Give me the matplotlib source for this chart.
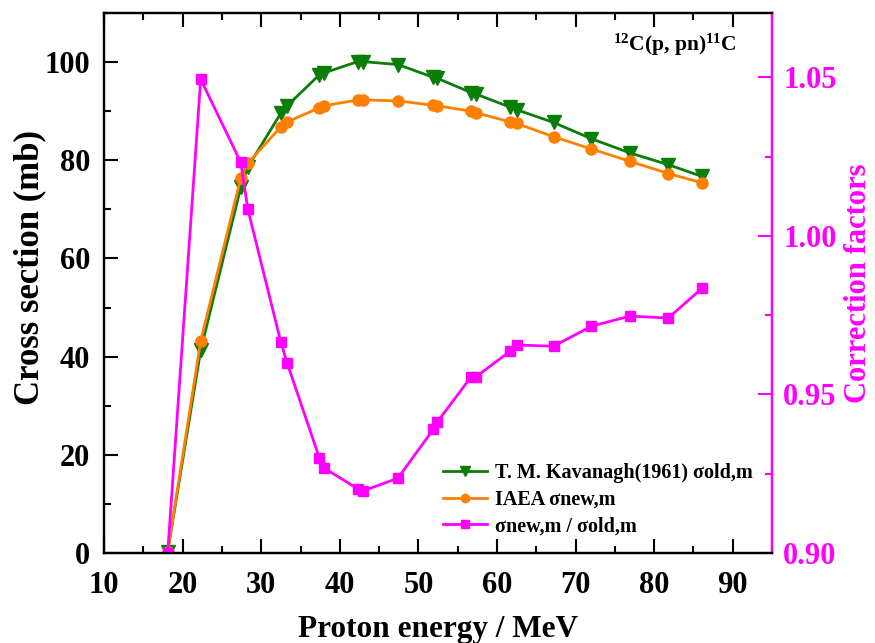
import matplotlib
matplotlib.use("Agg")
import matplotlib.pyplot as plt
from matplotlib.ticker import MultipleLocator

plt.rcParams["font.family"] = ["Liberation Serif", "DejaVu Serif"]
plt.rcParams["font.weight"] = "bold"
plt.rcParams["mathtext.fontset"] = "custom"
plt.rcParams["mathtext.rm"] = "Liberation Serif:bold"
plt.rcParams["mathtext.it"] = "Liberation Serif:bold"
plt.rcParams["mathtext.bf"] = "Liberation Serif:bold"
plt.rcParams["mathtext.default"] = "rm"

# Proton energies (MeV)
energy = [18.1, 22.3, 27.4, 28.3, 32.5, 33.3, 37.4, 38.0, 42.3, 42.9, 47.4,
          51.9, 52.4, 56.7, 57.3, 61.7, 62.5, 67.2, 72.0, 76.9, 81.8, 86.1]
# Monitor cross sections (mb)
sigma_old = [0.3, 41.3, 74.5, 78.6, 89.6, 91.1, 97.4, 97.8, 100.1, 100.1, 99.5,
             96.9, 96.7, 93.8, 93.5, 90.8, 90.3, 87.7, 84.4, 81.5, 79.1, 76.7]
sigma_new = [0.3, 43.2, 76.4, 79.4, 86.8, 87.8, 90.7, 91.1, 92.3, 92.3, 92.1,
             91.2, 91.1, 90.0, 89.7, 87.8, 87.5, 84.8, 82.3, 79.8, 77.3, 75.4]
# Correction factors sigma_new / sigma_old
ratio = [0.900, 1.0494, 1.0232, 1.0084, 0.9665, 0.9599, 0.9300, 0.9268,
         0.9202, 0.9195, 0.9236, 0.9390, 0.9413, 0.9555, 0.9555, 0.9637,
         0.9656, 0.9652, 0.9715, 0.9747, 0.9741, 0.9835]

GREEN = "#0a7d0a"
ORANGE = "#ff8000"
MAGENTA = "#ff00ff"

fig = plt.figure(figsize=(8.75, 6.43), dpi=100)
ax = fig.add_axes([0.1189, 0.140, 0.7634, 0.8398])
ax2 = ax.twinx()

l1, = ax.plot(energy, sigma_old, color=GREEN, lw=2, marker="v", ms=9.5,
              label="T. M. Kavanagh(1961) σold,m")
l2, = ax.plot(energy, sigma_new, color=ORANGE, lw=2, marker="o", ms=8,
              label="IAEA σnew,m")
l3, = ax2.plot(energy, ratio, color=MAGENTA, lw=2, marker="s", ms=7,
               label="σnew,m / σold,m")

ax.set_xlim(10, 95)
ax.set_ylim(0, 110)
ax2.set_ylim(0.90, 1.0703)

ax.xaxis.set_major_locator(MultipleLocator(10))
ax.xaxis.set_minor_locator(MultipleLocator(5))
ax.yaxis.set_major_locator(MultipleLocator(20))
ax.yaxis.set_minor_locator(MultipleLocator(10))
ax2.yaxis.set_major_locator(MultipleLocator(0.05))
ax2.yaxis.set_minor_locator(MultipleLocator(0.025))
ax2.yaxis.set_major_formatter(plt.FormatStrFormatter("%.2f"))

ax.tick_params(axis="x", which="both", direction="in", top=True,
               labelsize=22, width=1.5, pad=13)
ax.tick_params(axis="y", which="both", direction="in", right=False,
               labelsize=22, width=1.5, pad=10)
ax.tick_params(which="major", length=10)
ax.tick_params(which="minor", length=5)
ax2.tick_params(axis="y", which="both", direction="in", colors=MAGENTA,
                labelsize=22, width=1.5, pad=8)
ax2.tick_params(which="major", length=10)
ax2.tick_params(which="minor", length=5)

for s in ax.spines.values():
    s.set_linewidth(1.6)
for s in ax2.spines.values():
    s.set_linewidth(1.6)
ax2.spines["right"].set_color(MAGENTA)

ax.set_xlabel("Proton energy / MeV", fontsize=22.5, fontweight="bold", labelpad=11)
ax.set_ylabel("Cross section (mb)", fontsize=25, fontweight="bold")
ax.yaxis.set_label_coords(-0.087, 0.528)
ax2.set_ylabel("Correction factors", fontsize=22, fontweight="bold",
               color=MAGENTA)
ax2.yaxis.set_label_coords(1.108, 0.5)

ax.text(0.855, 0.941, r"$^{12}$C(p, pn)$^{11}$C", transform=ax.transAxes,
        ha="center", va="center", fontsize=15.5, fontweight="bold")

ax2.legend(handles=[l1, l2, l3], loc="lower left",
           bbox_to_anchor=(0.48, -0.003), frameon=False,
           prop={"size": 14.5, "weight": "bold"}, handlelength=2.2,
           handletextpad=0.4, labelspacing=0.33, markerscale=0.75)

fig.savefig("out.png", dpi=100)
